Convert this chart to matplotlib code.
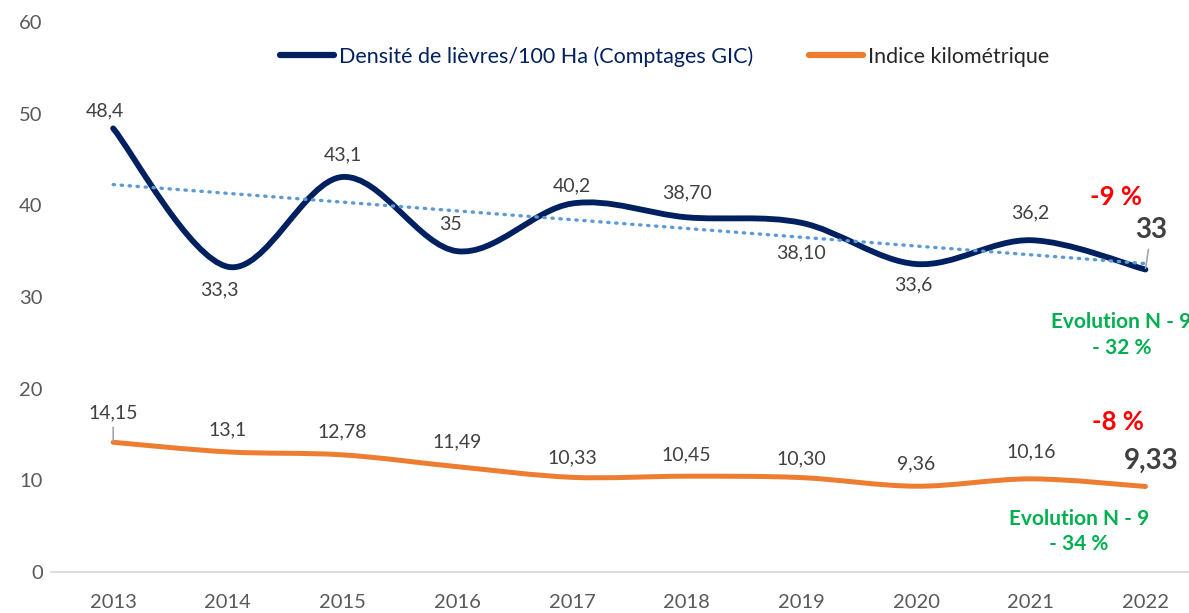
import numpy as np
import matplotlib.pyplot as plt
from matplotlib.path import Path
from matplotlib.patches import PathPatch
from matplotlib.lines import Line2D

plt.rcParams['font.family'] = ['Lato', 'DejaVu Sans']

years = ['2013', '2014', '2015', '2016', '2017', '2018', '2019', '2020', '2021', '2022']
densite = [48.4, 33.3, 43.1, 35, 40.2, 38.7, 38.1, 33.6, 36.2, 33]
densite_txt = ['48,4', '33,3', '43,1', '35', '40,2', '38,70', '38,10', '33,6', '36,2', '33']
indice = [14.15, 13.1, 12.78, 11.49, 10.33, 10.45, 10.30, 9.36, 10.16, 9.33]
indice_txt = ['14,15', '13,1', '12,78', '11,49', '10,33', '10,45', '10,30', '9,36', '10,16', '9,33']

navy = '#002060'
orange = '#ED7D31'
trend_col = '#5B9BD5'
green = '#00B050'
red = '#FF0000'
lab_col = '#404040'


# excel like smoothed line (catmull-rom as bezier)
def smooth(x, y):
    p = np.column_stack([x, y]).astype(float)
    n = len(p)
    verts = [p[0]]
    codes = [Path.MOVETO]
    for i in range(n - 1):
        p0 = p[max(i - 1, 0)]
        p1 = p[i]
        p2 = p[i + 1]
        p3 = p[min(i + 2, n - 1)]
        verts += [p1 + (p2 - p0) / 6, p2 - (p3 - p1) / 6, p2]
        codes += [Path.CURVE4] * 3
    return Path(verts, codes)


x = np.arange(len(years))

fig = plt.figure(figsize=(11.89, 6.13), dpi=100)
ax = fig.add_axes([0.0429, 0.0669, 0.9571, 0.8971])

ax.add_patch(PathPatch(smooth(x, densite), fill=False, edgecolor=navy, lw=4.2,
                       capstyle='round', joinstyle='round', zorder=3))
ax.add_patch(PathPatch(smooth(x, indice), fill=False, edgecolor=orange, lw=3.6,
                       capstyle='round', joinstyle='round', zorder=3))

# linear trend of the density
a, b = np.polyfit(x, densite, 1)
ax.plot(x, a * x + b, color=trend_col, lw=2.4, ls=(0, (0.4, 2.0)),
        dash_capstyle='round', zorder=4)

ax.set_xlim(-0.542, 9.38)
ax.set_ylim(0, 60)
ax.set_xticks(x)
ax.set_xticklabels(years)
ax.set_yticks(range(0, 61, 10))
ax.tick_params(length=0, labelsize=14.5, labelcolor='#595959')
ax.tick_params(axis='x', pad=16)
ax.tick_params(axis='y', pad=6)
for s in ['left', 'right', 'top']:
    ax.spines[s].set_visible(False)
ax.spines['bottom'].set_color('#D9D9D9')
ax.spines['bottom'].set_linewidth(1.3)

# data labels
d_off = [(-8, 18), (-8, -23), (0, 22), (-7, 27), (0, 18), (0, 24), (0, -30), (-3, -21), (0, 27), (6, 40)]
for i, (v, t) in enumerate(zip(densite, densite_txt)):
    last = i == len(densite) - 1
    ax.annotate(t, (x[i], v), xytext=d_off[i], textcoords='offset pixels',
                ha='center', va='center', color=lab_col,
                fontsize=20 if last else 14, fontweight='bold' if last else 'normal',
                arrowprops=dict(arrowstyle='-', color='#A6A6A6', lw=1.2, shrinkA=3, shrinkB=1) if last else None)

i_off = [(0, 29), (0, 22), (0, 23), (0, 25), (0, 19), (0, 21), (0, 19), (0, 22), (0, 27), (6, 26)]
for i, (v, t) in enumerate(zip(indice, indice_txt)):
    last = i == len(indice) - 1
    ax.annotate(t, (x[i], v), xytext=i_off[i], textcoords='offset pixels',
                ha='center', va='center', color=lab_col,
                fontsize=20 if last else 14, fontweight='bold' if last else 'normal',
                arrowprops=dict(arrowstyle='-', color='#A6A6A6', lw=1.2, shrinkA=2, shrinkB=1) if i == 0 else None)

# evolution notes
ax.text(8.74, 40.9, '-9 %', color=red, fontsize=18.5, fontweight='bold', ha='center', va='center')
ax.text(8.76, 16.4, '-8 %', color=red, fontsize=18.5, fontweight='bold', ha='center', va='center')
ax.text(8.79, 25.85, 'Evolution N - 9\n- 32 %', color=green, fontsize=15, fontweight='bold',
        ha='center', va='center', linespacing=1.35)
ax.text(8.42, 4.4, 'Evolution N - 9\n- 34 %', color=green, fontsize=15, fontweight='bold',
        ha='center', va='center', linespacing=1.35)

handles = [Line2D([], [], color=navy, lw=4.5, solid_capstyle='round'),
           Line2D([], [], color=orange, lw=4.5, solid_capstyle='round')]
leg = fig.legend(handles, ['Densité de lièvres/100 Ha (Comptages GIC)', 'Indice kilométrique'],
                 loc='center', bbox_to_anchor=(0.559, 0.908), ncol=2, frameon=False,
                 fontsize=15.5, handlelength=2.5, handletextpad=0.25, columnspacing=2.6)
leg.get_texts()[0].set_color(navy)
leg.get_texts()[1].set_color('#262626')

fig.savefig('out.png', dpi=100)
